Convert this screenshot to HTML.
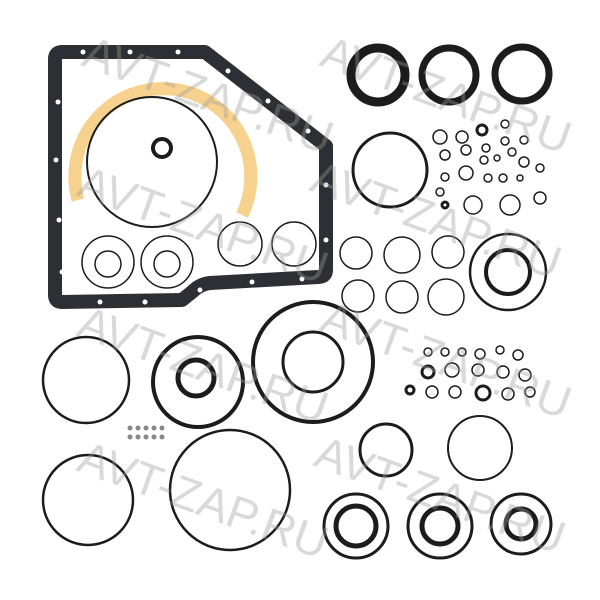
<!DOCTYPE html>
<html><head><meta charset="utf-8"><style>
html,body{margin:0;padding:0;background:#fff;width:600px;height:600px;overflow:hidden}
svg{display:block}
.wm{font-family:"Liberation Sans",sans-serif;font-size:46px;fill:#9a9a9a;fill-opacity:0.38}
</style></head><body>
<svg width="600" height="600" viewBox="0 0 600 600" xmlns="http://www.w3.org/2000/svg">
<g fill="none" stroke="#1c1c1c">
<path d="M62,52 L205,52 L326,146 L326,270 Q326,277 318,277 L210,283 Q200,284 192,292 L182,300 L62,302 Q55,302 55,295 L55,59 Q55,52 62,52 Z" stroke="#2c2f33" stroke-width="14" stroke-linejoin="round"/>
</g>
<g fill="#fff">
<circle cx="83" cy="52" r="2.5"/><circle cx="130" cy="52" r="2.5"/><circle cx="178" cy="52" r="2.5"/>
<circle cx="228" cy="71" r="2.5"/><circle cx="268" cy="101" r="2.5"/><circle cx="308" cy="131" r="2.5"/>
<circle cx="326" cy="185" r="2.5"/><circle cx="326" cy="240" r="2.5"/>
<circle cx="302" cy="279" r="2.5"/><circle cx="252" cy="282" r="2.5"/><circle cx="200" cy="290" r="2.5"/>
<circle cx="145" cy="302" r="2.5"/><circle cx="100" cy="302" r="2.5"/>
<circle cx="58" cy="102" r="2.5"/><circle cx="56" cy="160" r="2.5"/><circle cx="59" cy="220" r="2.5"/><circle cx="62" cy="272" r="2.5"/>
</g>
<path d="M78,200 A88,88 0 1 1 242,215" fill="none" stroke="#f7d28e" stroke-width="13"/>
<g fill="none" stroke="#1c1c1c">
<circle cx="152" cy="162" r="65" stroke-width="2"/>
<circle cx="162" cy="148" r="9" stroke-width="4"/>
<circle cx="108" cy="262" r="26" stroke-width="1.5"/><circle cx="108" cy="264" r="13" stroke-width="1.5"/>
<circle cx="167" cy="262" r="26" stroke-width="1.5"/><circle cx="167" cy="264" r="13" stroke-width="1.5"/>
<circle cx="240" cy="244" r="22" stroke-width="1.5"/>
<circle cx="294" cy="244" r="22" stroke-width="1.5"/>
<circle cx="378" cy="75" r="27" stroke-width="9"/>
<circle cx="449" cy="75" r="27" stroke-width="7"/>
<circle cx="522" cy="74" r="27" stroke-width="7"/>
<circle cx="390" cy="170" r="37" stroke-width="3"/>
<g stroke-width="1.5">
<circle cx="440" cy="137" r="7"/><circle cx="462" cy="137" r="6"/><circle cx="482" cy="130" r="5" stroke-width="3"/><circle cx="505" cy="124" r="4"/><circle cx="524" cy="140" r="4"/>
<circle cx="445" cy="155" r="5"/><circle cx="466" cy="150" r="5"/><circle cx="486" cy="148" r="4"/><circle cx="505" cy="141" r="4"/><circle cx="524" cy="162" r="5"/>
<circle cx="484" cy="160" r="4"/><circle cx="497" cy="158" r="3"/><circle cx="512" cy="152" r="4"/>
<circle cx="445" cy="177" r="4"/><circle cx="466" cy="173" r="7"/><circle cx="488" cy="178" r="4"/><circle cx="503" cy="178" r="4"/><circle cx="520" cy="178" r="3"/><circle cx="540" cy="168" r="4"/>
<circle cx="440" cy="192" r="4"/><circle cx="473" cy="205" r="9"/><circle cx="510" cy="205" r="10"/><circle cx="540" cy="198" r="6"/>
<circle cx="445" cy="205" r="3" stroke-width="3"/>
</g>
<g stroke-width="1.5">
<circle cx="356" cy="253" r="16"/><circle cx="402" cy="255" r="18"/><circle cx="448" cy="252" r="16"/>
<circle cx="358" cy="296" r="16"/><circle cx="402" cy="297" r="16"/><circle cx="446" cy="297" r="18"/>
</g>
<circle cx="508" cy="272" r="38" stroke-width="2.5"/><circle cx="508" cy="272" r="22" stroke-width="4"/>
<circle cx="86" cy="380" r="43" stroke-width="2.5"/>
<circle cx="198" cy="382" r="45" stroke-width="4"/><circle cx="196" cy="378" r="18" stroke-width="5"/>
<circle cx="313" cy="362" r="60" stroke-width="4"/><circle cx="313" cy="362" r="30" stroke-width="3"/>
<g stroke-width="1.5">
<circle cx="428" cy="352" r="4"/><circle cx="445" cy="352" r="4"/><circle cx="462" cy="352" r="4"/><circle cx="480" cy="354" r="5"/><circle cx="500" cy="350" r="4"/><circle cx="518" cy="355" r="5"/>
<circle cx="428" cy="372" r="6" stroke-width="3"/><circle cx="452" cy="370" r="7"/><circle cx="478" cy="370" r="6"/><circle cx="503" cy="372" r="6"/><circle cx="525" cy="375" r="6"/>
<circle cx="410" cy="390" r="4" stroke-width="3"/><circle cx="432" cy="392" r="6"/><circle cx="455" cy="392" r="6"/><circle cx="483" cy="393" r="7" stroke-width="3"/><circle cx="508" cy="394" r="6"/><circle cx="530" cy="392" r="5"/>
</g>
<circle cx="88" cy="500" r="45" stroke-width="2.5"/>
<circle cx="230" cy="490" r="60" stroke-width="2.5"/>
<circle cx="386" cy="450" r="26" stroke-width="3"/>
<circle cx="480" cy="448" r="32" stroke-width="2"/>
<circle cx="356" cy="526" r="32" stroke-width="3"/><circle cx="356" cy="526" r="20" stroke-width="5"/>
<circle cx="440" cy="526" r="32" stroke-width="3"/><circle cx="440" cy="526" r="18" stroke-width="5"/>
<circle cx="521" cy="524" r="30" stroke-width="3"/><circle cx="521" cy="524" r="15" stroke-width="5"/>
</g>
<g fill="#888">
<circle cx="130" cy="428" r="2.5"/><circle cx="138" cy="428" r="2.5"/><circle cx="146" cy="428" r="2.5"/><circle cx="154" cy="428" r="2.5"/><circle cx="162" cy="428" r="2.5"/>
<circle cx="130" cy="437" r="2.5"/><circle cx="138" cy="437" r="2.5"/><circle cx="146" cy="437" r="2.5"/><circle cx="154" cy="437" r="2.5"/><circle cx="162" cy="437" r="2.5"/>
</g>
<g class="wm">
<text transform="translate(80,65) rotate(20)">AVT-ZAP.RU</text>
<text transform="translate(318,65) rotate(20)">AVT-ZAP.RU</text>
<text transform="translate(75,195) rotate(20)">AVT-ZAP.RU</text>
<text transform="translate(308,190) rotate(20)">AVT-ZAP.RU</text>
<text transform="translate(75,335) rotate(20)">AVT-ZAP.RU</text>
<text transform="translate(318,330) rotate(20)">AVT-ZAP.RU</text>
<text transform="translate(75,470) rotate(20)">AVT-ZAP.RU</text>
<text transform="translate(312,465) rotate(20)">AVT-ZAP.RU</text>
</g>
</svg>
</body></html>
